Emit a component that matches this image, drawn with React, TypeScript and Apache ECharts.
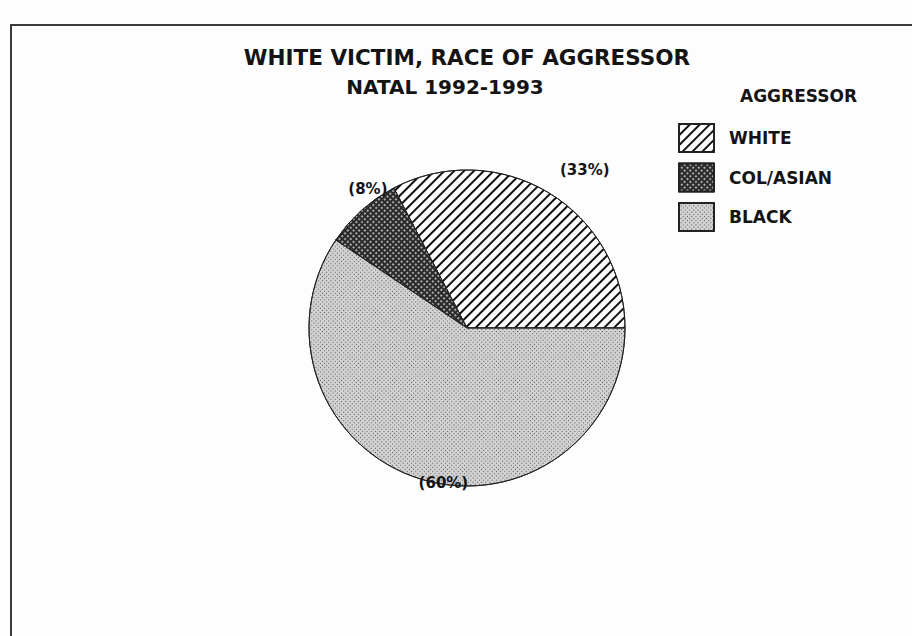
import React, { useEffect, useRef } from "react";
import * as echarts from "echarts";

// ---- data ----
const categories = ["WHITE", "COL/ASIAN", "BLACK"];
const shares = [33, 8, 60];
const titleLine1 = "WHITE VICTIM, RACE OF AGGRESSOR";
const titleLine2 = "NATAL 1992-1993";
const legendTitle = "AGGRESSOR";

// ---- styling ----
const FONT = "'DejaVu Sans', 'Liberation Sans', Arial, sans-serif";
const INK = "#141414";
const fills = ["#ffffff", "#2a2a2a", "#d2d2d2"];
const decals: any[] = [
  {
    symbol: "rect",
    symbolSize: 1,
    color: "#111111",
    dashArrayX: [1, 0],
    dashArrayY: [1.3, 4.3],
    rotation: -Math.PI / 4,
  },
  {
    symbol: "rect",
    symbolSize: 1,
    color: "#a8a8a8",
    dashArrayX: [1.5, 2],
    dashArrayY: [1.5, 2],
    rotation: Math.PI / 4,
  },
  {
    symbol: "rect",
    symbolSize: 1,
    color: "#5a5a5a",
    dashArrayX: [1, 2],
    dashArrayY: [1, 2],
    rotation: Math.PI / 4,
  },
];
const labelShift = [
  [8, -18],
  [30, -17],
  [49, -2],
];

export default function App() {
  const ref = useRef<HTMLDivElement>(null);

  useEffect(() => {
    if (!ref.current) return;
    const chart = echarts.init(ref.current, undefined, { renderer: "svg" });
    const option: any = {
      animation: false,
      backgroundColor: "#fdfdfd",
      title: [
        {
          text: titleLine1,
          left: 467,
          top: 46,
          textAlign: "center",
          padding: 0,
          textStyle: {
            fontFamily: FONT,
            fontWeight: "bold",
            fontSize: 21.5,
            color: INK,
          },
        },
        {
          text: titleLine2,
          left: 445,
          top: 77,
          textAlign: "center",
          padding: 0,
          textStyle: {
            fontFamily: FONT,
            fontWeight: "bold",
            fontSize: 20,
            color: INK,
          },
        },
        {
          text: legendTitle,
          left: 740,
          top: 87,
          padding: 0,
          textStyle: {
            fontFamily: FONT,
            fontWeight: "bold",
            fontSize: 17,
            color: INK,
          },
        },
      ],
      legend: {
        orient: "vertical",
        left: 678,
        top: 123,
        padding: 0,
        itemWidth: 35,
        itemHeight: 28,
        itemGap: 9.5,
        icon: "rect",
        selectedMode: false,
        data: categories,
        textStyle: {
          fontFamily: FONT,
          fontWeight: "bold",
          fontSize: 17,
          color: INK,
          padding: [0, 0, 0, 10],
        },
      },
      graphic: [
        {
          type: "line",
          shape: { x1: 11, y1: 25, x2: 912, y2: 25 },
          style: { stroke: "#3a3a3a", lineWidth: 2 },
          silent: true,
        },
        {
          type: "line",
          shape: { x1: 11, y1: 24, x2: 11, y2: 636 },
          style: { stroke: "#3a3a3a", lineWidth: 2 },
          silent: true,
        },
      ],
      series: [
        {
          type: "pie",
          center: [467, 328],
          radius: 158,
          startAngle: 0,
          clockwise: false,
          silent: true,
          emphasis: { disabled: true },
          data: categories.map((name, i) => ({
            name,
            value: shares[i],
            itemStyle: {
              color: fills[i],
              decal: decals[i],
              borderColor: "#222222",
              borderWidth: 1,
            },
          })),
          label: {
            show: true,
            position: "outside",
            formatter: (p: any) => "(" + p.value + "%)",
            fontFamily: FONT,
            fontWeight: "bold",
            fontSize: 15,
            color: INK,
            distanceToLabelLine: 0,
          },
          labelLine: { show: false, length: 6, length2: 0 },
          labelLayout: (p: any) => ({
            dx: labelShift[p.dataIndex][0],
            dy: labelShift[p.dataIndex][1],
          }),
        },
      ],
    };
    chart.setOption(option);
    return () => chart.dispose();
  }, []);

  return (
    <div
      ref={ref}
      style={{ position: "fixed", left: 0, top: 0, width: 912, height: 636 }}
    />
  );
}
